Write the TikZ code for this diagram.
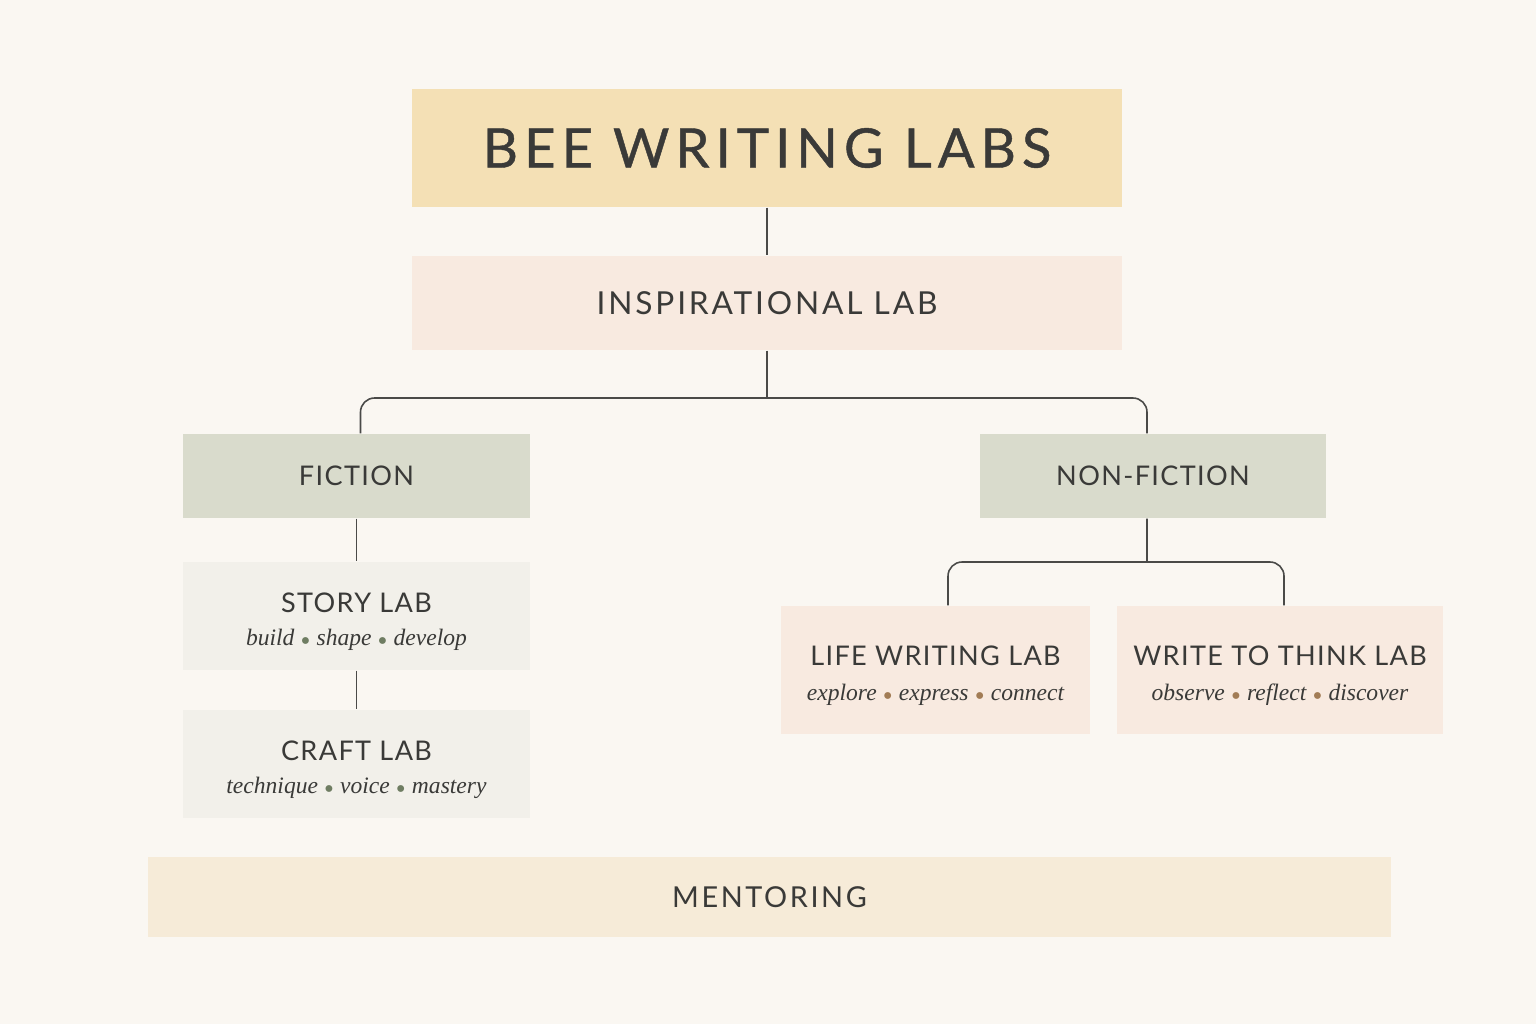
\documentclass[tikz,border=0pt]{standalone}
\usepackage{fontspec}
\newfontfamily\labfont[LetterSpace=5]{Lato}
\newfontfamily\widefont[LetterSpace=9]{Lato}
\newfontfamily\titlefont[LetterSpace=11,FakeBold=0.8]{Lato}
\newfontfamily\notefont{Liberation Serif}
\definecolor{paper}{HTML}{FAF7F2}
\definecolor{ink}{HTML}{3A3A38}
\definecolor{wire}{HTML}{4A4A48}
\definecolor{gold}{HTML}{F4E0B5}
\definecolor{blush}{HTML}{F8EAE0}
\definecolor{sage}{HTML}{D9DBCC}
\definecolor{stone}{HTML}{F2F0EA}
\definecolor{cream}{HTML}{F6EBD8}
\definecolor{dotgreen}{HTML}{6F7D62}
\definecolor{dotbrown}{HTML}{A27C55}
\tikzset{box/.style={inner sep=0pt, text=ink, align=center},
link/.style={draw=wire, line width=0.45pt}}
\newcommand{\capsize}[1]{{\labfont\fontsize{7.7}{9}\selectfont\rule{0pt}{9pt}#1}}
\newcommand{\subsize}[1]{{\notefont\itshape\fontsize{6.7}{8}\selectfont #1}}
\newcommand{\gdot}{\ {\color{dotgreen}\raisebox{0.45pt}{\scalebox{0.8}{$\scriptscriptstyle\bullet$}}}\ }
\newcommand{\bdot}{\ {\color{dotbrown}\raisebox{0.45pt}{\scalebox{0.8}{$\scriptscriptstyle\bullet$}}}\ }
\begin{document}
\begin{tikzpicture}[x=0.01cm,y=-0.01cm]

    \fill[paper] (0,0) rectangle (1536,1024);
    \useasboundingbox (0,0) rectangle (1536,1024);

    \node[box, fill=gold, minimum width=7.10cm, minimum height=1.18cm] (title) at (767,148)
        {\titlefont\fontsize{15.5}{19}\selectfont BEE WRITING LABS};
    \node[box, fill=blush, minimum width=7.10cm, minimum height=0.94cm] (insp) at (767,303)
        {\widefont\fontsize{9}{11}\selectfont INSPIRATIONAL LAB};

    \node[box, fill=sage, minimum width=3.47cm, minimum height=0.84cm] (fiction) at (356.5,476)
        {\labfont\fontsize{7.7}{9}\selectfont FICTION};
    \node[box, fill=sage, minimum width=3.46cm, minimum height=0.84cm] (nonfic) at (1153,476)
        {\labfont\fontsize{7.7}{9}\selectfont NON-FICTION};

    \node[box, fill=stone, minimum width=3.47cm, minimum height=1.08cm] (story) at (356.5,616)
        {\capsize{STORY LAB}\\[-2.7pt]\subsize{build\gdot shape\gdot develop}};
    \node[box, fill=stone, minimum width=3.47cm, minimum height=1.08cm] (craft) at (356.5,764)
        {\capsize{CRAFT LAB}\\[-2.7pt]\subsize{technique\gdot voice\gdot mastery}};

    \node[box, fill=blush, minimum width=3.09cm, minimum height=1.28cm] (life) at (935.5,670)
        {\capsize{LIFE WRITING LAB}\\[-2pt]\subsize{explore\bdot express\bdot connect}};
    \node[box, fill=blush, minimum width=3.26cm, minimum height=1.28cm] (think) at (1280,670)
        {\capsize{WRITE TO THINK LAB}\\[-2pt]\subsize{observe\bdot reflect\bdot discover}};

    \node[box, fill=cream, minimum width=12.43cm, minimum height=0.80cm] (mentor) at (769.5,897)
        {\widefont\fontsize{8.2}{10}\selectfont MENTORING};

    \coordinate (split) at (767,398);
    \coordinate (split2) at (1147,562);

    \draw[link] (title) -- (insp);
    \draw[link] (insp) -- (split);
    \draw[link, rounded corners=4pt] ([xshift=0.04cm]fiction.north) |- (split) -| ([xshift=-0.06cm]nonfic.north);
    \draw[link] (fiction) -- (story);
    \draw[link] (story) -- (craft);
    \draw[link] ([xshift=-0.06cm]nonfic.south) -- (split2);
    \draw[link, rounded corners=4pt] ([xshift=0.125cm]life.north) |- (split2) -| ([xshift=0.04cm]think.north);

  \end{tikzpicture}
\end{document}
